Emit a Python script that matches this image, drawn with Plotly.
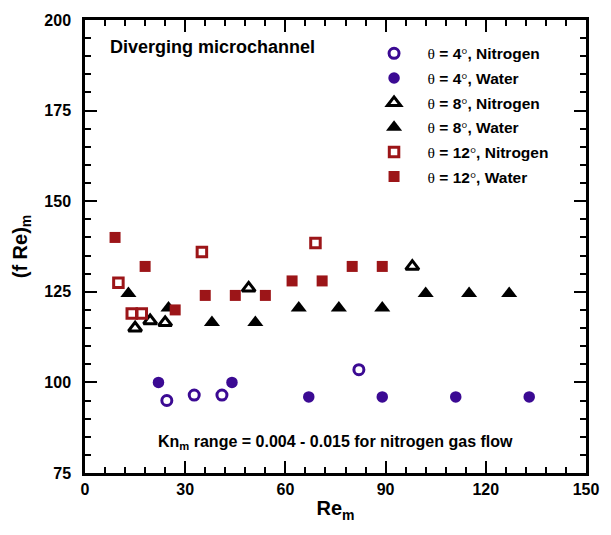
import plotly.graph_objects as go

# Mean Reynolds number and mean Poiseuille number for each case
re_4_n2 = [24.5, 32.7, 41, 82]
fre_4_n2 = [95, 96.5, 96.5, 103.5]

re_4_w = [22, 44, 67, 89, 111, 133]
fre_4_w = [100, 100, 96, 96, 96, 96]

re_8_n2 = [15, 19.5, 24, 49, 98]
fre_8_n2 = [115, 117, 116.5, 126, 132]

re_8_w = [13, 25, 38, 51, 64, 76, 89, 102, 115, 127]
fre_8_w = [124.5, 120.5, 116.5, 116.5, 120.5, 120.5, 120.5, 124.5, 124.5, 124.5]

re_12_n2 = [10, 14, 17, 35, 69]
fre_12_n2 = [127.5, 119, 119, 136, 138.5]

re_12_w = [9, 18, 27, 36, 45, 54, 62, 71, 80, 89]
fre_12_w = [140, 132, 120, 124, 124, 124, 128, 128, 132, 132]

PURPLE = "#3b0a93"
RED = "#9c1518"
BLACK = "#000000"

TH = '<span style="font-family:Liberation Serif;font-weight:normal">θ</span>'
DEG = '<span style="font-family:Liberation Serif;font-weight:normal">°</span>'


def label(angle, fluid):
    return f"{TH} = {angle}{DEG}, {fluid}"


# (legend label, x, y, symbol, colour, size, outline width)
series = [
    (label(4, "Nitrogen"), re_4_n2, fre_4_n2, "circle-open", PURPLE, 10, 3),
    (label(4, "Water"), re_4_w, fre_4_w, "circle", PURPLE, 11.5, 0),
    (label(8, "Nitrogen"), re_8_n2, fre_8_n2, "triangle-up-open", BLACK, 11.5, 3),
    (label(8, "Water"), re_8_w, fre_8_w, "triangle-up", BLACK, 14, 0),
    (label(12, "Nitrogen"), re_12_n2, fre_12_n2, "square-open", RED, 9.5, 3),
    (label(12, "Water"), re_12_w, fre_12_w, "square", RED, 11, 0),
]

fig = go.Figure()
for i, (name, x, y, sym, col, size, lw) in enumerate(series):
    fig.add_trace(go.Scatter(
        x=x, y=y, mode="markers", name=name, legendgroup=f"g{i}",
        marker=dict(symbol=sym, color=col, size=size,
                    line=dict(color=col, width=lw)),
    ))

FONT = "Liberation Sans, Arial, sans-serif"

axis_common = dict(
    showline=True, linecolor="black", linewidth=2.5, mirror="ticks",
    ticks="inside", ticklen=12, tickwidth=2, tickcolor="black",
    showgrid=False, zeroline=False,
    tickfont=dict(family=FONT, size=16, color="black", weight="bold"),
)

fig.update_xaxes(
    range=[0, 150], dtick=30, tick0=0,
    minor=dict(dtick=6, ticks="inside", ticklen=6, tickwidth=1.5, tickcolor="black"),
    title=dict(text="Re<sub>m</sub>", standoff=5,
               font=dict(family=FONT, size=20, color="black", weight="bold")),
    **axis_common,
)
fig.update_yaxes(
    range=[75, 200], dtick=25, tick0=75, ticklabelstandoff=8,
    minor=dict(dtick=5, ticks="inside", ticklen=6, tickwidth=1.5, tickcolor="black"),
    title=dict(text="(f Re)<sub>m</sub>", standoff=12,
               font=dict(family=FONT, size=20, color="black", weight="bold")),
    **axis_common,
)

fig.add_annotation(
    x=0.045, y=0.94, xref="paper", yref="paper", xanchor="left", yanchor="middle",
    text="Diverging microchannel", showarrow=False,
    font=dict(family=FONT, size=18, color="black", weight="bold"),
)
fig.add_annotation(
    x=0.5, y=0.067, xref="paper", yref="paper", xanchor="center", yanchor="middle",
    text="Kn<sub>m</sub> range = 0.004 - 0.015 for nitrogen gas flow", showarrow=False,
    font=dict(family=FONT, size=16, color="black", weight="bold"),
)

fig.update_layout(
    width=611, height=535,
    margin=dict(l=85, r=16, t=13, b=62),
    paper_bgcolor="white", plot_bgcolor="white",
    showlegend=True,
    legend=dict(
        x=0.55, y=0.963, xanchor="left", yanchor="top",
        bgcolor="rgba(0,0,0,0)", tracegroupgap=1.5, itemwidth=57,
        font=dict(family=FONT, size=15.5, color="black", weight="bold"),
    ),
)

fig.write_html("out.html")
